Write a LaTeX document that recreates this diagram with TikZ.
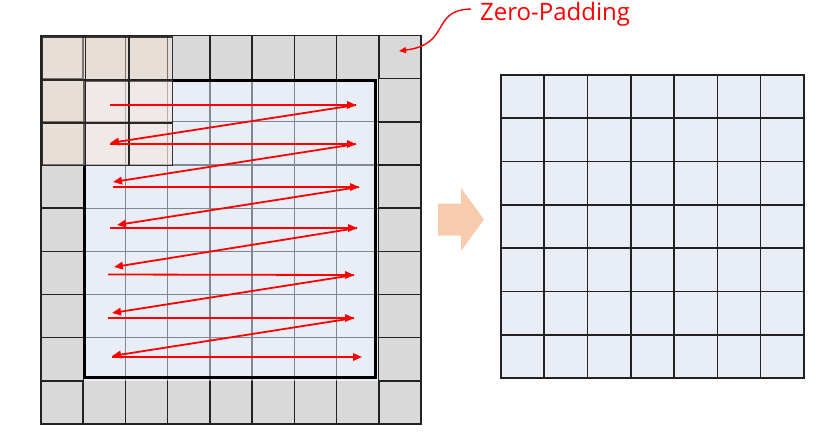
\documentclass[tikz,border=0pt]{standalone}
\usepackage{fontspec}
\setmainfont{Open Sans}
\usetikzlibrary{arrows.meta}
\definecolor{padgray}{HTML}{D9D9D9}
\definecolor{cellblue}{HTML}{E9EDF6}
\definecolor{gridline}{HTML}{222222}
\definecolor{innerline}{HTML}{808894}
\definecolor{kernelfill}{RGB}{251,229,214}
\definecolor{peach}{HTML}{F8CBAD}
\definecolor{zred}{HTML}{FF0000}
\begin{document}
\begin{tikzpicture}[x=1pt,y=-1pt,
  padline/.style={draw=gridline,line width=1.6pt},
  innergrid/.style={draw=innerline,line width=1.3pt},
  borderbox/.style={draw=black,line width=2.8pt},
  kernelcell/.style={fill=kernelfill,fill opacity=0.42,draw=gridline,draw opacity=0.9,line width=1.5pt},
  outcell/.style={fill=cellblue,draw=gridline,line width=1.6pt},
  scanarrow/.style={draw=zred,line width=1.8pt,-{Triangle[length=9pt,width=7.5pt]}},
  notearrow/.style={draw=zred,line width=1.4pt,-{Triangle[length=7pt,width=6pt]}},
  notelabel/.style={text=zred,font=\fontsize{24}{26}\selectfont,inner sep=0pt,anchor=base west}
]
\useasboundingbox (0,0) rectangle (829,440);

% ---- padded input grid (9x9) ----
\fill[padgray] (41,35.5) rectangle (421,424);
\fill[cellblue] (83.3,78.7) rectangle (378.5,380.7);
\foreach \k in {2,...,7} {
  \draw[innergrid] ({41+\k*42.222},78.7) -- ({41+\k*42.222},380.7);
  \draw[innergrid] (83.3,{35.5+\k*43.17}) -- (378.5,{35.5+\k*43.17});
}
\foreach \k in {0,...,9} {
  \draw[padline] ({41+\k*42.222},35.5) -- ({41+\k*42.222},78.7);
  \draw[padline] ({41+\k*42.222},380.7) -- ({41+\k*42.222},424);
  \draw[padline] (41,{35.5+\k*43.17}) -- (83.3,{35.5+\k*43.17});
  \draw[padline] (378.5,{35.5+\k*43.17}) -- (421,{35.5+\k*43.17});
}
\draw[padline] (41,35.5) rectangle (421,424);
\draw[padline] (83.3,78.7) -- (83.3,380.7);
\draw[padline] (378.5,78.7) -- (378.5,380.7);
\draw[borderbox] (84.5,80.5) rectangle (375.5,377.5);

% ---- kernel 3x3 ----
\foreach \i in {0,1,2} {
  \foreach \j in {0,1,2} {
    \path[kernelcell] ({42+\i*43.57},{37+\j*42.9}) rectangle ({42+(\i+1)*43.57},{37+(\j+1)*42.9});
  }
}

% ---- scan path ----
\coordinate (h1s) at (110,105);   \coordinate (h1e) at (356,105);
\coordinate (d1e) at (110,143);
\coordinate (h2s) at (110,144);   \coordinate (h2e) at (356,144);
\coordinate (d2e) at (113,182);
\coordinate (h3s) at (113,187);   \coordinate (h3e) at (359,187);
\coordinate (d3e) at (117,225);
\coordinate (h4s) at (110,228);   \coordinate (h4e) at (357,228);
\coordinate (d4e) at (114,267);
\coordinate (h5s) at (108,274.5); \coordinate (h5e) at (354,275);
\coordinate (d5e) at (112,313);
\coordinate (h6s) at (108,318);   \coordinate (h6e) at (354,318);
\coordinate (d6e) at (112,356);
\coordinate (h7s) at (112,357);   \coordinate (h7e) at (362,357);

\draw[scanarrow] (h1s) -- (h1e);
\draw[scanarrow] (h1e) -- (d1e);
\draw[scanarrow] (h2s) -- (h2e);
\draw[scanarrow] (h2e) -- (d2e);
\draw[scanarrow] (h3s) -- (h3e);
\draw[scanarrow] (h3e) -- (d3e);
\draw[scanarrow] (h4s) -- (h4e);
\draw[scanarrow] (h4e) -- (d4e);
\draw[scanarrow] (h5s) -- (h5e);
\draw[scanarrow] (h5e) -- (d5e);
\draw[scanarrow] (h6s) -- (h6e);
\draw[scanarrow] (h6e) -- (d6e);
\draw[scanarrow] (h7s) -- (h7e);

% ---- block arrow ----
\fill[peach] (438,203.5) -- (461,203.5) -- (461,188) -- (484,219.5) -- (461,251) -- (461,235.5) -- (438,235.5) -- cycle;

% ---- output grid (7x7) ----
\foreach \i in {0,...,6} {
  \foreach \j in {0,...,6} {
    \path[outcell] ({500.7+\i*43.33},{75+\j*43.29}) rectangle ({500.7+(\i+1)*43.33},{75+(\j+1)*43.29});
  }
}

% ---- label ----
\node[notelabel] (zp) at (480,20.5) {Zero-Padding};
\coordinate (zs) at (471,9);
\coordinate (zt) at (399,51);
\draw[notearrow] (zs) .. controls (430,10) and (452,44) .. (zt);
\end{tikzpicture}
\end{document}
